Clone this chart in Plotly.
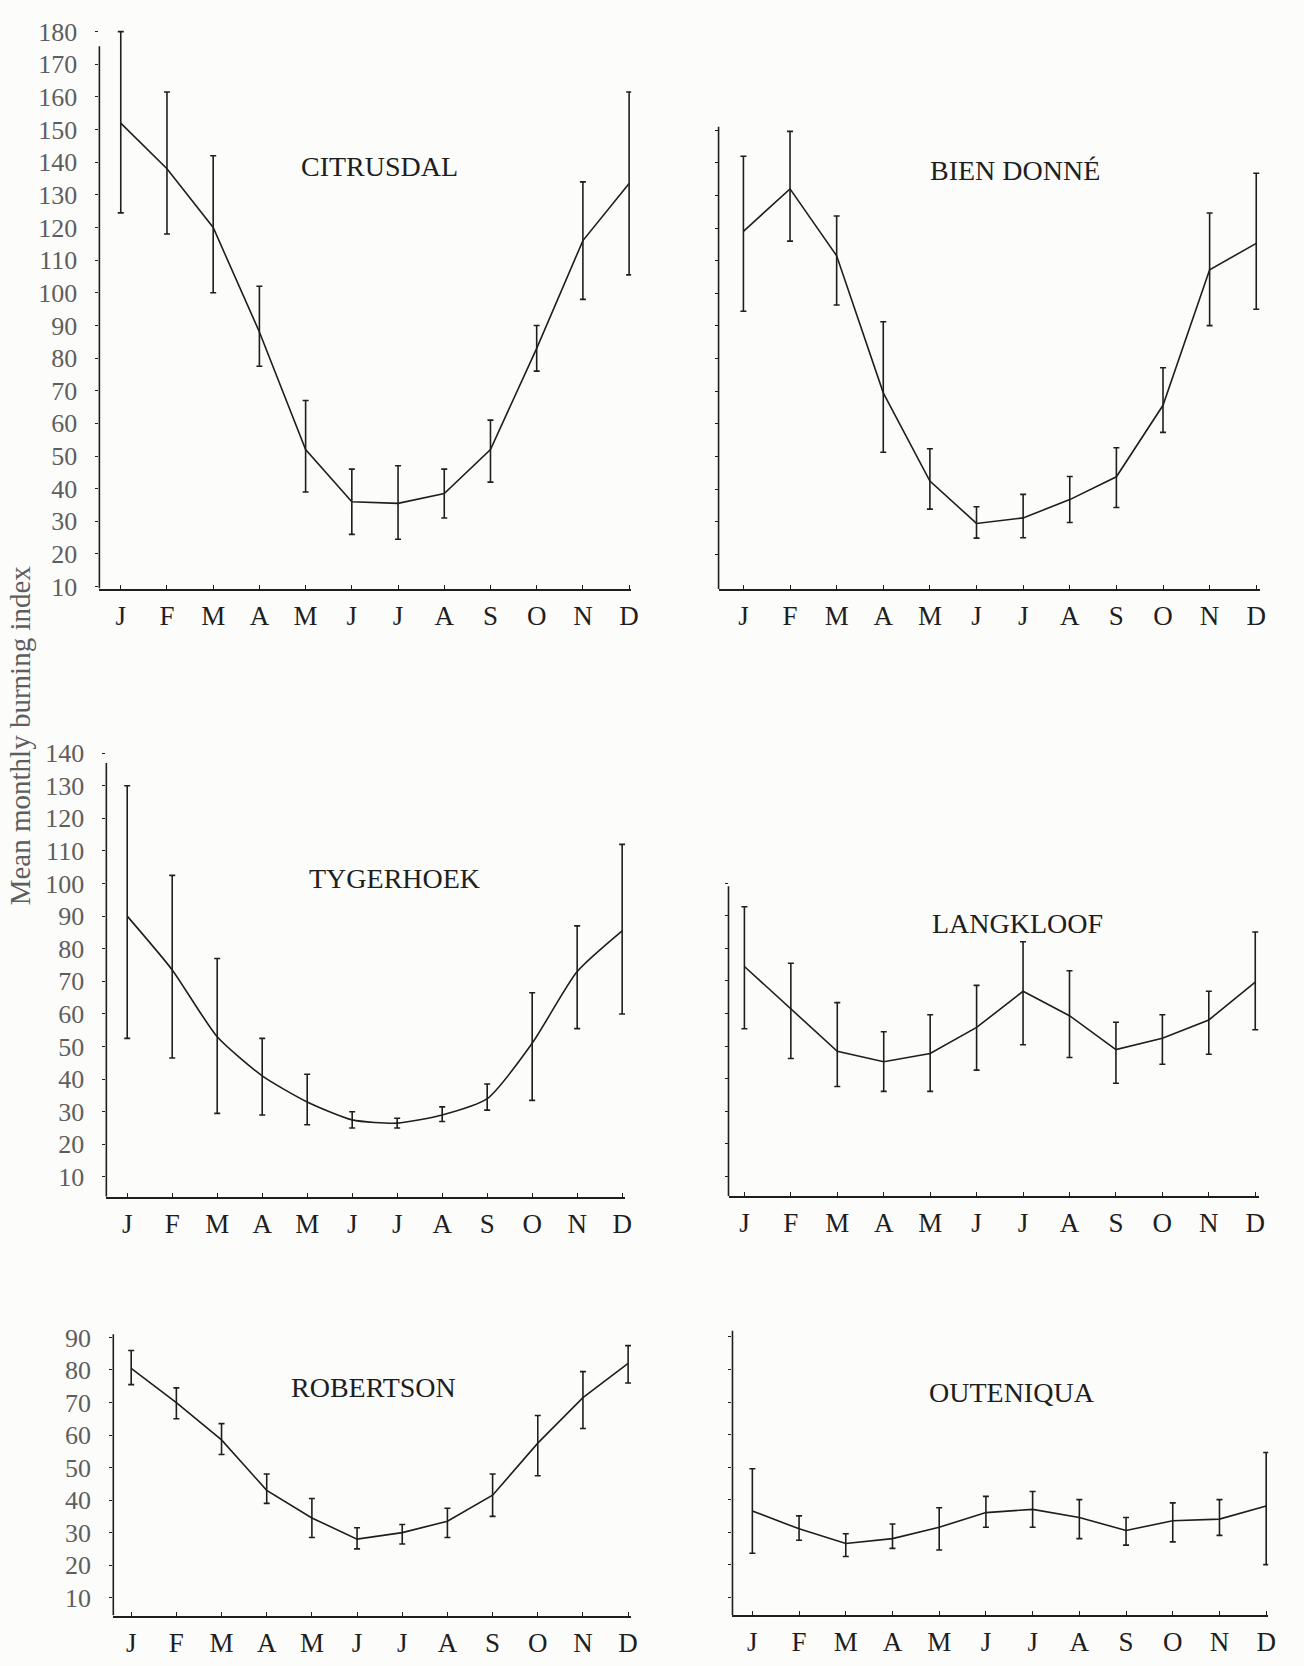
import plotly.graph_objects as go

# Monthly labels along every x axis
months = ["J", "F", "M", "A", "M", "J", "J", "A", "S", "O", "N", "D"]

# Mean monthly burning index with upper / lower limits of the bars
citrusdal_mean = [152, 138, 120, 88, 52, 36, 35.5, 38.5, 52, 83, 116, 133.5]
citrusdal_hi = [180, 161.5, 142, 102, 67, 46, 47, 46, 61, 90, 134, 161.5]
citrusdal_lo = [124.5, 118, 100, 77.5, 39, 26, 24.5, 31, 42, 76, 98, 105.5]

bien_donne_mean = [119, 132, 111.5, 69.5, 42.5, 29.5, 31.2, 36.8, 43.8, 65.7, 107.2, 115.3]
bien_donne_hi = [142, 149.6, 123.7, 91.3, 52.4, 34.6, 38.4, 43.9, 52.7, 77.2, 124.6, 136.8]
bien_donne_lo = [94.5, 116, 96.4, 51.3, 33.9, 25.0, 25.1, 29.8, 34.4, 57.4, 90.1, 95.1]

tygerhoek_mean = [90, 73.5, 53, 41, 33, 27.5, 26.5, 29, 34, 51, 73, 85.5]
tygerhoek_hi = [130, 102.5, 77, 52.5, 41.5, 30, 28, 31.5, 38.5, 66.5, 87, 112]
tygerhoek_lo = [52.5, 46.5, 29.5, 29, 26, 25, 25, 27, 30.5, 33.5, 55.5, 60]

langkloof_mean = [74.4, 61.3, 48.4, 45.2, 47.7, 55.7, 66.8, 59.3, 48.9, 52.4, 58, 69.6]
langkloof_hi = [92.7, 75.4, 63.3, 54.4, 59.6, 68.6, 82, 73.1, 57.3, 59.6, 66.8, 85]
langkloof_lo = [55.3, 46.2, 37.6, 36.1, 36.1, 42.6, 50.4, 46.5, 38.6, 44.4, 47.5, 55]

robertson_mean = [80.5, 70, 58.5, 43, 34.5, 28, 30, 33.5, 41.5, 57.5, 71.5, 82]
robertson_hi = [86, 74.5, 63.5, 48, 40.5, 31.5, 32.5, 37.5, 48, 66, 79.5, 87.5]
robertson_lo = [75.5, 65, 54, 39, 28.5, 25, 26.5, 28.5, 35, 47.5, 62, 76]

outeniqua_mean = [36.5, 31, 26.5, 28, 31.5, 36, 37, 34.5, 30.5, 33.5, 34, 38]
outeniqua_hi = [49.5, 35, 29.5, 32.5, 37.5, 41, 42.5, 40, 34.5, 39, 40, 54.5]
outeniqua_lo = [23.5, 27.5, 22.5, 25, 24.5, 31.5, 31.5, 28, 26, 27, 29, 20]

# Y tick values shown on the left-hand panels
citrusdal_ticks = list(range(10, 181, 10))
tygerhoek_ticks = list(range(10, 141, 10))
robertson_ticks = list(range(10, 91, 10))

W, H = 1304, 1666
INK = "#1e1e1e"
GREY = "#5e5e5e"
SERIF = "Liberation Serif, Times New Roman, serif"

# Panel geometry (pixels): y-axis x, x-axis end, first/last month centre,
# x-axis y, value range, px per unit, top of the drawn y-axis line, title centre
panels = [
    dict(name="CITRUSDAL", mean=citrusdal_mean, hi=citrusdal_hi, lo=citrusdal_lo,
         ax=100, xend=635, j=121.5, d=633, yb=586, vlo=9.4, vhi=181, ppu=3.312,
         ytop=175.5, ticks=citrusdal_ticks, labels=True, title=(382, 158), shape="linear"),
    dict(name="BIEN DONNÉ", mean=bien_donne_mean, hi=bien_donne_hi, lo=bien_donne_lo,
         ax=723, xend=1268, j=748, d=1264, yb=586.5, vlo=9.4, vhi=151.5, ppu=3.312,
         ytop=151, ticks=list(range(20, 151, 10)), labels=False, title=(1021, 162), shape="linear"),
    dict(name="TYGERHOEK", mean=tygerhoek_mean, hi=tygerhoek_hi, lo=tygerhoek_lo,
         ax=107, xend=629, j=128, d=626, yb=1203, vlo=3.95, vhi=141, ppu=3.308,
         ytop=137, ticks=tygerhoek_ticks, labels=True, title=(397, 880), shape="spline"),
    dict(name="LANGKLOOF", mean=langkloof_mean, hi=langkloof_hi, lo=langkloof_lo,
         ax=733, xend=1267, j=749, d=1263, yb=1202.5, vlo=3.95, vhi=100, ppu=3.308,
         ytop=99, ticks=list(range(10, 101, 10)), labels=False, title=(1024, 926), shape="linear"),
    dict(name="ROBERTSON", mean=robertson_mean, hi=robertson_hi, lo=robertson_lo,
         ax=114, xend=635, j=132, d=632, yb=1628, vlo=4.5, vhi=91.5, ppu=3.3,
         ytop=91, ticks=robertson_ticks, labels=True, title=(376, 1397), shape="linear"),
    dict(name="OUTENIQUA", mean=outeniqua_mean, hi=outeniqua_hi, lo=outeniqua_lo,
         ax=737, xend=1276, j=757, d=1274, yb=1627.5, vlo=4.5, vhi=92, ppu=3.3,
         ytop=92, ticks=list(range(10, 91, 10)), labels=False, title=(1018, 1402), shape="linear"),
]

fig = go.Figure()
layout = dict(
    width=W, height=H,
    margin=dict(l=0, r=0, t=0, b=0),
    paper_bgcolor="#fcfcfb", plot_bgcolor="rgba(0,0,0,0)",
    showlegend=False,
    font=dict(family=SERIF, color=INK),
)
annotations = []
shapes = []

for i, p in enumerate(panels, start=1):
    xa = "x" if i == 1 else f"x{i}"
    ya = "y" if i == 1 else f"y{i}"
    idx = list(range(12))
    err_up = [h - m for h, m in zip(p["hi"], p["mean"])]
    err_dn = [m - l for m, l in zip(p["mean"], p["lo"])]
    fig.add_trace(go.Scatter(
        x=idx, y=p["mean"], mode="lines", xaxis=xa, yaxis=ya,
        line=dict(color=INK, width=1.6, shape=p["shape"], smoothing=0.6),
        error_y=dict(type="data", symmetric=False, array=err_up, arrayminus=err_dn,
                     color=INK, thickness=1.6, width=3),
        hoverinfo="skip",
    ))

    sp = (p["d"] - p["j"]) / 11.0
    x_range = [(p["ax"] - p["j"]) / sp, 11 + (p["xend"] - p["d"]) / sp]
    top_px = p["yb"] - (p["vhi"] - p["vlo"]) * p["ppu"]

    layout["xaxis" if i == 1 else f"xaxis{i}"] = dict(
        domain=[p["ax"] / W, p["xend"] / W], range=x_range, anchor=ya,
        showgrid=False, zeroline=False, showline=True, linecolor=INK, linewidth=1.6,
        ticks="inside", ticklen=4, tickwidth=1.2, tickcolor=INK,
        tickvals=idx, ticktext=months, ticklabelstandoff=2,
        tickfont=dict(family=SERIF, size=27, color=INK), fixedrange=True,
    )
    layout["yaxis" if i == 1 else f"yaxis{i}"] = dict(
        domain=[1 - p["yb"] / H, 1 - top_px / H], range=[p["vlo"], p["vhi"]], anchor=xa,
        showgrid=False, zeroline=False, showline=False,
        ticks="outside", ticklen=3, tickwidth=1.2, tickcolor=INK,
        tickvals=p["ticks"], showticklabels=p["labels"], ticklabelstandoff=13,
        tickfont=dict(family=SERIF, size=26, color=GREY), fixedrange=True,
    )
    # vertical axis line, ending where the printed axis ends
    shapes.append(dict(type="line", xref=f"{xa} domain", yref=ya,
                       x0=0, x1=0, y0=p["vlo"], y1=p["ytop"],
                       line=dict(color=INK, width=1.6)))
    tx, ty = p["title"]
    annotations.append(dict(text=p["name"], xref="paper", yref="paper",
                            x=tx / W, y=1 - ty / H, xanchor="center", yanchor="middle",
                            showarrow=False, font=dict(family=SERIF, size=28, color=INK)))

annotations.append(dict(text="Mean monthly burning index", xref="paper", yref="paper",
                        x=21 / W, y=1 - 735 / H, xanchor="center", yanchor="middle",
                        textangle=-90, showarrow=False,
                        font=dict(family=SERIF, size=29, color=GREY)))

layout["annotations"] = annotations
layout["shapes"] = shapes
fig.update_layout(**layout)
fig.write_html("out.html")
